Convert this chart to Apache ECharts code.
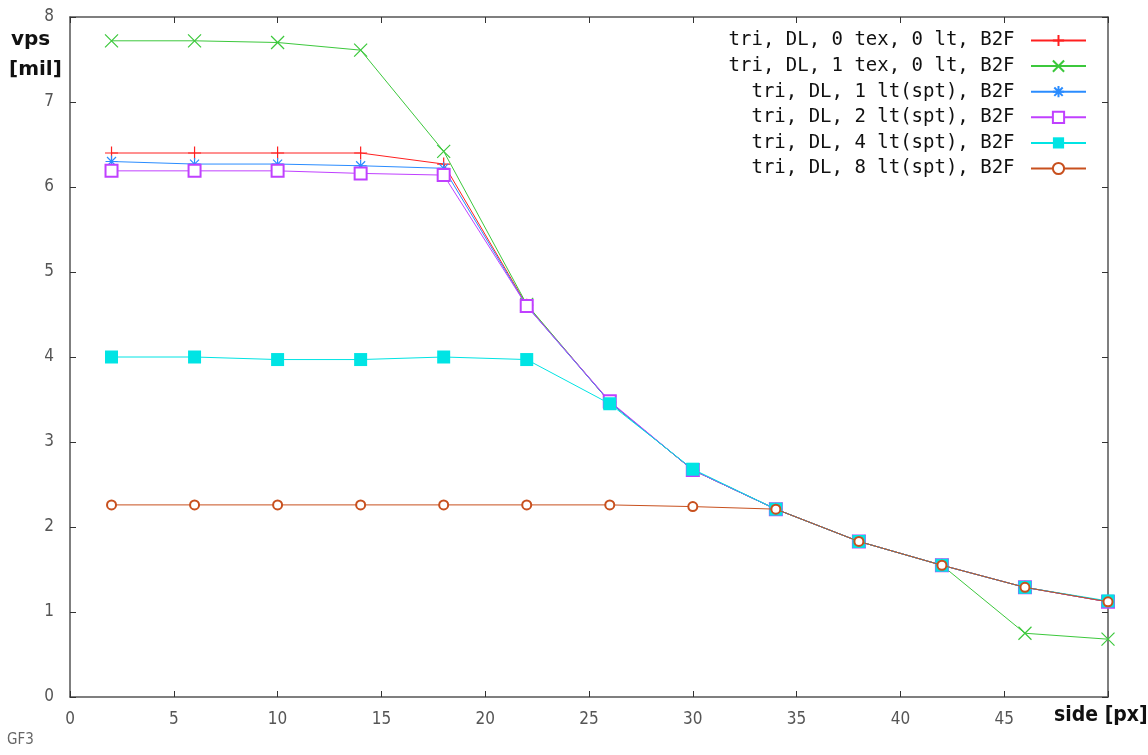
<!DOCTYPE html>
<html><head><meta charset="utf-8">
<script src="https://cdn.jsdelivr.net/npm/echarts@6/dist/echarts.min.js"></script>
<style>html,body{margin:0;padding:0;background:#fff}#c{width:1148px;height:755px}</style>
</head><body><div id="c"></div>
<script>
const xValues = [2, 6, 10, 14, 18, 22, 26, 30, 34, 38, 42, 46, 50];
const names = [
  'tri, DL, 0 tex, 0 lt, B2F',
  'tri, DL, 1 tex, 0 lt, B2F',
  'tri, DL, 1 lt(spt), B2F',
  'tri, DL, 2 lt(spt), B2F',
  'tri, DL, 4 lt(spt), B2F',
  'tri, DL, 8 lt(spt), B2F'
];
const tex0lt0 = [6.40, 6.40, 6.40, 6.40, 6.27, 4.61, 3.47, 2.67, 2.21, 1.83, 1.55, 1.29, 1.12];
const tex1lt0 = [7.72, 7.72, 7.70, 7.61, 6.42, 4.62, 3.47, 2.67, 2.21, 1.83, 1.55, 0.75, 0.68];
const lt1spt  = [6.30, 6.27, 6.27, 6.25, 6.22, 4.60, 3.47, 2.67, 2.21, 1.83, 1.55, 1.29, 1.12];
const lt2spt  = [6.19, 6.19, 6.19, 6.16, 6.14, 4.60, 3.48, 2.67, 2.21, 1.83, 1.55, 1.29, 1.12];
const lt4spt  = [4.00, 4.00, 3.97, 3.97, 4.00, 3.97, 3.45, 2.68, 2.21, 1.83, 1.55, 1.29, 1.13];
const lt8spt  = [2.26, 2.26, 2.26, 2.26, 2.26, 2.26, 2.26, 2.24, 2.21, 1.83, 1.55, 1.29, 1.12];
const yTicks = [0, 1, 2, 3, 4, 5, 6, 7, 8];
const xTicks = [0, 5, 10, 15, 20, 25, 30, 35, 40, 45, 50];

const seriesData = [tex0lt0, tex1lt0, lt1spt, lt2spt, lt4spt, lt8spt];
const colors = ['#ff2020', '#3cc83c', '#2a8cff', '#c040ff', '#00e4e4', '#c8501e'];
const symbols = [
  'path://M0,6L12,6M6,0L6,12',
  'path://M0,0L12,12M0,12L12,0',
  'path://M0,6L12,6M6,0L6,12M1.5,1.5L10.5,10.5M1.5,10.5L10.5,1.5',
  'emptyRect',
  'rect',
  'emptyCircle'
];
const symSizes = [13, 13, 12, 12, 13, 9];

const labelFont = "'Liberation Sans Narrow','DejaVu Sans Condensed','Liberation Sans',sans-serif";

const chart = echarts.init(document.getElementById('c'), null, {renderer: 'canvas'});
const series = names.map((n, i) => ({
  name: n,
  type: 'line',
  data: xValues.map((x, j) => [x, seriesData[i][j]]),
  symbol: symbols[i],
  symbolSize: symSizes[i],
  showSymbol: true,
  lineStyle: {color: colors[i], width: 1},
  itemStyle: {color: colors[i], borderColor: colors[i], borderWidth: (i === 4 ? 0 : 1.2)},
  emphasis: {disabled: true},
  animation: false,
  z: 2 + i
}));

const axisCommon = {
  type: 'value',
  splitLine: {show: false},
  axisLine: {show: true, onZero: false, lineStyle: {color: '#555', width: 1.5}},
  axisTick: {show: true, inside: true, length: 6, lineStyle: {color: '#333'}}
};

chart.setOption({
  backgroundColor: '#fff',
  animation: false,
  grid: {left: 70, right: 40, top: 17, bottom: 58},
  legend: {
    orient: 'vertical',
    right: 56,
    top: 26,
    align: 'right',
    itemWidth: 55,
    itemHeight: 14,
    itemGap: 6.6,
    data: names,
    formatter: n => n.padStart(25, ' ') + ' ',
    textStyle: {fontFamily: "'DejaVu Sans Mono','Liberation Mono',monospace", fontSize: 19, lineHeight: 19, color: '#111'}
  },
  xAxis: [
    Object.assign({}, axisCommon, {
      min: 0, max: 50, interval: 5, position: 'bottom',
      axisLabel: {show: true, margin: 14, fontFamily: labelFont, fontSize: 17, color: '#555',
        formatter: v => (v === 50 ? '' : String(v))}
    }),
    Object.assign({}, axisCommon, {
      min: 0, max: 50, interval: 5, position: 'top', axisLabel: {show: false}
    })
  ],
  yAxis: [
    Object.assign({}, axisCommon, {
      min: 0, max: 8, interval: 1, position: 'left',
      axisLabel: {show: true, margin: 16, fontFamily: labelFont, fontSize: 17, color: '#555'}
    }),
    Object.assign({}, axisCommon, {
      min: 0, max: 8, interval: 1, position: 'right', axisLabel: {show: false}
    })
  ],
  graphic: [
    {type: 'text', left: 11, top: 30, style: {text: 'vps', font: "bold 20px 'DejaVu Sans','Liberation Sans',sans-serif", fill: '#111'}},
    {type: 'text', left: 9, top: 60, style: {text: '[mil]', font: "bold 20px 'DejaVu Sans','Liberation Sans',sans-serif", fill: '#111'}},
    {type: 'text', left: 1054, top: 705, style: {text: 'side [px]', font: "bold 21px " + labelFont, fill: '#111'}},
    {type: 'text', left: 7, top: 733, style: {text: 'GF3', font: "15px " + labelFont, fill: '#666'}}
  ],
  series: series
});
</script></body></html>
